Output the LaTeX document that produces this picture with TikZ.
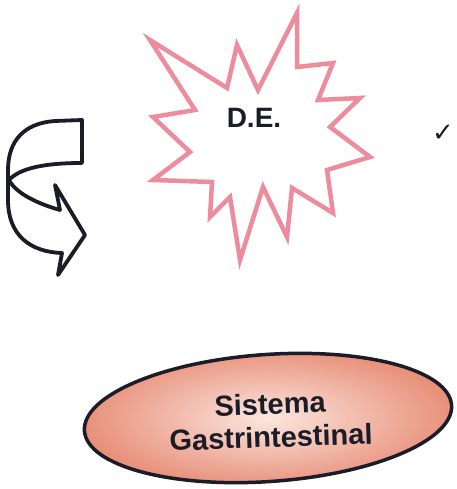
\documentclass[tikz,border=0pt]{standalone}
\usepackage{fontspec}
\setmainfont{Liberation Sans}
\newfontfamily\dejavu{DejaVu Sans}
\usetikzlibrary{shapes.geometric}
\definecolor{burst}{HTML}{EC8C9C}
\definecolor{ink}{HTML}{1C1C28}
\definecolor{salmonin}{HTML}{FBE6DE}
\definecolor{salmonout}{HTML}{E8907A}
\tikzset{
  burstline/.style={draw=burst, line width=4.5pt, fill=white, line join=miter, miter limit=20},
  arrowline/.style={draw=ink, line width=3.8pt, fill=white, line join=round},
  bigtext/.style={font=\fontsize{28}{29}\selectfont\bfseries, text=ink, align=center, inner sep=0pt},
  organtext/.style={font=\fontsize{29}{30}\selectfont\bfseries, text=ink, inner sep=0pt, rotate=2},
  organ/.style={ellipse, draw=ink, line width=3.5pt, shading=radial, inner color=salmonin, outer color=salmonout, minimum width=368pt, minimum height=127pt, inner sep=0pt}
}
\begin{document}
\begin{tikzpicture}[x=1pt,y=-1pt]
\useasboundingbox (0,0) rectangle (456,489);
\fill[white] (0,0) rectangle (456,489);
% starburst
\draw[burstline] (150,40) -- (227,88) -- (237,45) -- (258,90) -- (297,13) -- (297,67) -- (333,63) -- (318,100) -- (360,98) -- (330,127) -- (370,157) -- (327,170) -- (333,213) -- (292,188) -- (287,237) -- (263,187) -- (240,260) -- (230,197) -- (210,217) -- (212,182) -- (153,180) -- (190,152) -- (153,117) -- (195,110) -- cycle;
\node[bigtext] (de) at (254,118) {D.E.};
% curved arrow
\draw[arrowline] (82,120) -- (55,121) .. controls (25,123) and (8,140) .. (8,170) -- (8,200) .. controls (8,235) and (30,252) .. (62,253) -- (58,275) -- (85,235) -- (55,185) -- (60,210) .. controls (35,203) and (15,192) .. (9,180) .. controls (20,168) and (45,163) .. (82,163) -- cycle;
% check mark
\node[text=ink, font=\dejavu\fontsize{26}{26}\selectfont, inner sep=0pt] (chk) at (443,133) {✓};
% ellipse
\node[organ, rotate=4] (sg) at (268,418) {};
\node[organtext] (sg1) at (270,404) {Sistema};
\node[organtext] (sg2) at (271,437) {Gastrintestinal};
\end{tikzpicture}
\end{document}
